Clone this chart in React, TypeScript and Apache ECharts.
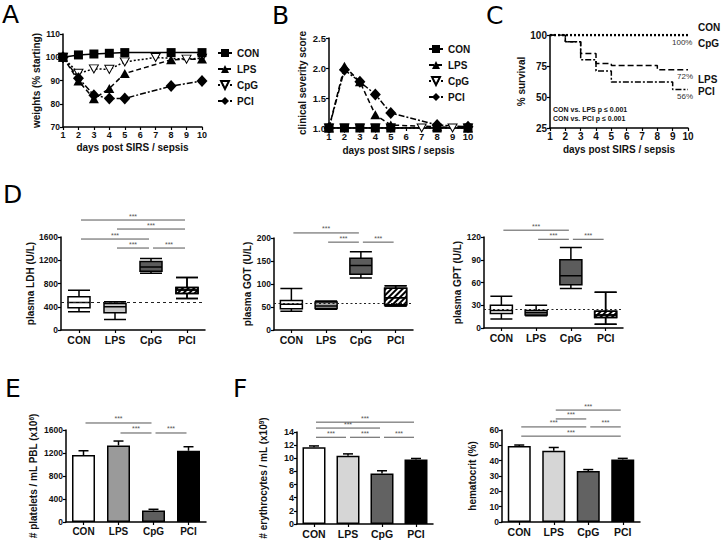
import React, { useEffect, useRef } from 'react';
import * as echarts from 'echarts';

const FONT = '"Liberation Sans", Arial, Helvetica, sans-serif';
const LETTER_FONT = '"DejaVu Sans", "Noto Sans", sans-serif';

const groups = ['CON', 'LPS', 'CpG', 'PCI'];

// Panel A - weights (% starting)
const daysMain = [1, 2, 3, 4, 5, 8, 10];
const daysCpG = [1, 2, 3, 4, 5, 7, 9, 10];
const weightCON = [100, 101, 101.4, 101.7, 102, 102, 102];
const weightLPS = [100, 89.8, 82.1, 86.6, 93, 98.9, 99.2];
const weightCpG = [100, 93.1, 95, 94.8, 98, 99.9, 99.2, 99.6];
const weightPCI = [100, 91, 83.7, 82.3, 82.3, 87.6, 89.8];

// Panel B - clinical severity score
const scoreCON = [1, 1, 1, 1, 1, 1, 1];
const scoreLPS = [1, 2.03, 1.77, 1.22, 1.05, 1.02, 1.0];
const scoreCpG = [1, 1, 1, 1, 1, 1, 1, 1];
const scorePCI = [1, 1.97, 1.77, 1.56, 1.25, 1.05, 1.02];

// Panel C - survival (Kaplan-Meier)
const survDaysCON = [1, 10];
const survCON = [100, 100];
const survDaysLPS = [1, 2, 3, 4, 5, 8, 10];
const survLPS = [100, 94.5, 85, 77, 75.5, 72, 72];
const survDaysPCI = [1, 2, 3, 4, 5, 9, 10];
const survPCI = [100, 94.5, 80, 71, 62, 56, 56];

// Panel D - box plots [min, Q1, median, Q3, max]
const ldhBoxes = [
  [314, 383, 474, 571, 686],
  [180, 297, 400, 457, 486],
  [977, 1010, 1086, 1177, 1229],
  [543, 629, 690, 731, 903],
];
const ldhRef = 470;
const gotBoxes = [
  [41, 46, 56, 64, 90],
  [45, 47, 52, 61, 63],
  [113, 121, 140, 156, 170],
  [52, 55, 70, 91, 96],
];
const gotRef = 58;
const gptBoxes = [
  [12, 19, 23, 30, 42],
  [16, 17, 20, 23, 30],
  [52, 57, 69, 90, 106],
  [5, 14, 17, 22, 47],
];
const gptRef = 25;

// Panel E - platelets
const plateletMean = [1164, 1332, 198, 1239];
const plateletUpper = [1239, 1408, 221, 1309];

// Panel F - erythrocytes and hematocrit
const erythroMean = [11.68, 10.37, 7.7, 9.82];
const erythroUpper = [11.88, 10.67, 8.1, 9.97];
const hctMean = [49.5, 46.5, 33.2, 40.8];
const hctUpper = [50.2, 48.6, 34.2, 41.5];

// significance brackets [fromGroup, toGroup, y]
const sigLDH = [[0, 3, 1892], [1, 3, 1737], [0, 2, 1565], [1, 2, 1410], [2, 3, 1410]];
const sigGOT = [[0, 2, 211], [1, 2, 191], [2, 3, 191]];
const sigGPT = [[0, 2, 129], [1, 2, 117], [2, 3, 117]];
const sigPlt = [[0, 2, 1722], [1, 2, 1548], [2, 3, 1548]];
const sigEry = [[0, 3, 15.5], [0, 2, 14.6], [0, 1, 13.2], [1, 2, 13.2], [2, 3, 13.2]];
const sigHct = [[1, 3, 73], [1, 2, 67.2], [0, 2, 62], [2, 3, 62], [0, 3, 56]];

const zip = (xs: number[], ys: number[]) => xs.map((x, i) => [x, ys[i]]);

const axisLineStyle = { show: true, onZero: false, lineStyle: { color: '#000', width: 1.5 } };
const axisTickStyle = { show: true, length: 3, lineStyle: { color: '#000', width: 1.2 } };
const nameStyle = {
  color: '#111', fontSize: 10, fontWeight: 'bold', fontFamily: FONT,
  rich: { sup: { fontSize: 6.5, fontWeight: 'bold', fontFamily: FONT, color: '#111', verticalAlign: 'top', lineHeight: 10 } },
};

function valueX(gridIndex: number, fontSize: number, nameGap: number) {
  return {
    type: 'value', gridIndex, min: 1, max: 10, interval: 1,
    name: 'days post SIRS / sepsis', nameLocation: 'middle', nameGap,
    nameTextStyle: nameStyle,
    axisLine: axisLineStyle, axisTick: axisTickStyle, splitLine: { show: false },
    axisLabel: { color: '#111', fontSize, fontWeight: 'bold', fontFamily: FONT, margin: 3 },
  };
}

function catX(gridIndex: number, fontSize: number) {
  return {
    type: 'category', gridIndex, data: groups,
    axisLine: axisLineStyle,
    axisTick: { ...axisTickStyle, alignWithLabel: true },
    splitLine: { show: false },
    axisLabel: { color: '#111', fontSize, fontWeight: 'bold', fontFamily: FONT, margin: 4 },
  };
}

function valueY(gridIndex: number, min: number, max: number, interval: number, name: string, nameGap: number, fontSize: number, decimals = 0) {
  return {
    type: 'value', gridIndex, min, max, interval,
    name, nameLocation: 'middle', nameGap, nameTextStyle: nameStyle,
    axisLine: axisLineStyle, axisTick: axisTickStyle, splitLine: { show: false },
    axisLabel: {
      color: '#111', fontSize, fontWeight: 'bold', fontFamily: FONT, margin: 3,
      formatter: (v: number) => v.toFixed(decimals),
    },
  };
}

const CPG_SYMBOL = 'path://M0,0L10,0L5,9Z';

function timeSeries(axis: number, cpgDays: number[], con: number[], lps: number[], cpg: number[], pci: number[]) {
  const common = { type: 'line', xAxisIndex: axis, yAxisIndex: axis, z: 3 };
  return [
    { ...common, name: 'CpG', data: zip(cpgDays, cpg), symbol: CPG_SYMBOL, symbolSize: [9, 8],
      itemStyle: { color: '#fff', borderColor: '#000', borderWidth: 1 },
      lineStyle: { color: '#000', width: 1.5, type: [2, 2] } },
    { ...common, name: 'PCI', data: zip(daysMain, pci), symbol: 'diamond', symbolSize: [11, 12],
      itemStyle: { color: '#000' }, lineStyle: { color: '#000', width: 1.5, type: [6, 2, 2, 2] } },
    { ...common, name: 'LPS', data: zip(daysMain, lps), symbol: 'triangle', symbolSize: [10, 9],
      itemStyle: { color: '#000' }, lineStyle: { color: '#000', width: 1.5, type: [5, 3] } },
    { ...common, name: 'CON', data: zip(daysMain, con), symbol: 'rect', symbolSize: 9,
      itemStyle: { color: '#000' }, lineStyle: { color: '#000', width: 1.5, type: 'solid' } },
  ];
}

function sigSeries(axis: number, data: number[][]) {
  return {
    type: 'custom', xAxisIndex: axis, yAxisIndex: axis, clip: false, silent: true, z: 5,
    encode: { x: [0, 1], y: 2 },
    data,
    renderItem: (_p: any, api: any) => {
      const a = api.coord([api.value(0), api.value(2)]);
      const b = api.coord([api.value(1), api.value(2)]);
      return {
        type: 'group',
        children: [
          { type: 'line', shape: { x1: a[0] + 2, y1: a[1], x2: b[0] - 2, y2: b[1] },
            style: { stroke: '#555', lineWidth: 1 } },
          { type: 'text', style: { text: '***', x: (a[0] + b[0]) / 2, y: a[1] - 0.5,
            align: 'center', verticalAlign: 'bottom', fontSize: 7, fontFamily: FONT, fill: '#555' } },
        ],
      };
    },
  };
}

function errSeries(axis: number, mean: number[], upper: number[]) {
  return {
    type: 'custom', xAxisIndex: axis, yAxisIndex: axis, clip: false, silent: true, z: 4,
    encode: { x: 0, y: [1, 2] },
    data: mean.map((m, i) => [i, m, upper[i]]),
    renderItem: (_p: any, api: any) => {
      const base = api.coord([api.value(0), api.value(1)]);
      const top = api.coord([api.value(0), api.value(2)]);
      return {
        type: 'group',
        children: [
          { type: 'line', shape: { x1: base[0], y1: base[1], x2: top[0], y2: top[1] },
            style: { stroke: '#000', lineWidth: 1.5 } },
          { type: 'line', shape: { x1: top[0] - 5, y1: top[1], x2: top[0] + 5, y2: top[1] },
            style: { stroke: '#000', lineWidth: 1.5 } },
        ],
      };
    },
  };
}

const hatch = {
  color: '#fff',
  decal: { symbol: 'rect', color: '#000', dashArrayX: [1, 0], dashArrayY: [1.6, 1.6], rotation: -Math.PI / 4, symbolSize: 1 },
};

function boxSeries(axis: number, boxes: number[][], ref: number, lpsColor: string, dash: number[]) {
  const fills = ['#ffffff', lpsColor, '#5c5c5c'];
  return {
    type: 'boxplot', xAxisIndex: axis, yAxisIndex: axis, boxWidth: [22, 22],
    itemStyle: { borderColor: '#000', borderWidth: 1.5 },
    data: boxes.map((b, i) => ({
      value: b,
      itemStyle: i === 3 ? { ...hatch, borderColor: '#000', borderWidth: 1.5 } : { color: fills[i], borderColor: '#000', borderWidth: 1.5 },
    })),
    markLine: {
      silent: true, symbol: 'none', label: { show: false },
      lineStyle: { color: '#222', width: 1.2, type: dash },
      data: [{ yAxis: ref }],
    },
  };
}

function barSeries(axis: number, vals: number[], colors: string[]) {
  return {
    type: 'bar', xAxisIndex: axis, yAxisIndex: axis, barWidth: 23,
    data: vals.map((v, i) => ({ value: v, itemStyle: { color: colors[i], borderColor: '#000', borderWidth: 1.5 } })),
  };
}

function letter(text: string, x: number, y: number) {
  return { type: 'text', left: x, top: y, style: { text, fontSize: 25, fontFamily: LETTER_FONT, fill: '#000' } };
}

function label(text: string, x: number, y: number, size: number, bold = true, color = '#111') {
  return { type: 'text', left: x, top: y, style: { text, fontSize: size, fontWeight: bold ? 'bold' : 'normal', fontFamily: FONT, fill: color } };
}

const legendBase = {
  orient: 'vertical', padding: 0, itemWidth: 14, itemHeight: 10, itemGap: 6,
  data: ['CON', 'LPS', 'CpG', 'PCI'], selectedMode: false,
  textStyle: { color: '#111', fontSize: 10, fontWeight: 'bold', fontFamily: FONT },
};

export default function App() {
  const ref = useRef<HTMLDivElement>(null);
  useEffect(() => {
    if (!ref.current) return;
    const chart = echarts.init(ref.current, undefined, { renderer: 'svg' });
    const gridBase = { containLabel: false, outerBoundsMode: 'none' };
    const option: any = {
      animation: false,
      backgroundColor: '#fff',
      textStyle: { fontFamily: FONT },
      grid: [
        { ...gridBase, left: 63, top: 34, width: 139, height: 93 },
        { ...gridBase, left: 329, top: 38, width: 139, height: 90 },
        { ...gridBase, left: 550, top: 35, width: 138, height: 93 },
        { ...gridBase, left: 61, top: 237, width: 144, height: 93 },
        { ...gridBase, left: 274, top: 238, width: 139, height: 92 },
        { ...gridBase, left: 484, top: 237, width: 139, height: 91 },
        { ...gridBase, left: 66, top: 430, width: 140, height: 92 },
        { ...gridBase, left: 297, top: 432, width: 136, height: 92 },
        { ...gridBase, left: 502, top: 430, width: 138, height: 92 },
      ],
      legend: [
        { ...legendBase, left: 217, top: 48 },
        { ...legendBase, left: 428, top: 44 },
      ],
      xAxis: [
        valueX(0, 9, 15),
        valueX(1, 9.5, 17),
        valueX(2, 10, 16),
        catX(3, 10.5),
        catX(4, 10.5),
        catX(5, 10.5),
        catX(6, 10),
        catX(7, 10.5),
        catX(8, 10.5),
      ],
      yAxis: [
        valueY(0, 70, 110, 10, 'weights (% starting)', 20, 8.5),
        valueY(1, 1, 2.5, 0.5, 'clinical severity score', 22, 9.5, 1),
        valueY(2, 25, 100, 25, '% survival', 22, 10),
        valueY(3, 0, 1600, 400, 'plasma LDH (U/L)', 24, 8.5),
        valueY(4, 0, 200, 50, 'plasma GOT (U/L)', 22, 8.5),
        valueY(5, 0, 120, 30, 'plasma GPT (U/L)', 22, 8.5),
        valueY(6, 0, 1600, 400, '# platelets / mL PBL (x10{sup|6})', 28, 8.5),
        valueY(7, 0, 14, 2, '# erythrocytes / mL (x10{sup|9})', 29, 9),
        valueY(8, 0, 60, 10, 'hematocrit (%)', 25, 8.5),
      ],
      series: [
        ...timeSeries(0, daysCpG, weightCON, weightLPS, weightCpG, weightPCI),
        ...timeSeries(1, daysCpG, scoreCON, scoreLPS, scoreCpG, scorePCI),
        { type: 'line', name: 'CON survival', xAxisIndex: 2, yAxisIndex: 2, step: 'end', symbol: 'none',
          data: zip(survDaysCON, survCON), lineStyle: { color: '#000', width: 2.5, type: [2, 2] } },
        { type: 'line', name: 'LPS survival', xAxisIndex: 2, yAxisIndex: 2, step: 'end', symbol: 'none',
          data: zip(survDaysLPS, survLPS), lineStyle: { color: '#000', width: 1.5, type: [6, 3] } },
        { type: 'line', name: 'PCI survival', xAxisIndex: 2, yAxisIndex: 2, step: 'end', symbol: 'none',
          data: zip(survDaysPCI, survPCI), lineStyle: { color: '#000', width: 1.5, type: [6, 2, 2, 2] } },
        boxSeries(3, ldhBoxes, ldhRef, '#c8c8c8', [3, 3]),
        boxSeries(4, gotBoxes, gotRef, '#a8a8a8', [2, 2.5]),
        boxSeries(5, gptBoxes, gptRef, '#a8a8a8', [2, 2.5]),
        sigSeries(3, sigLDH),
        sigSeries(4, sigGOT),
        sigSeries(5, sigGPT),
        barSeries(6, plateletMean, ['#ffffff', '#9a9a9a', '#5e5e5e', '#000000']),
        errSeries(6, plateletMean, plateletUpper),
        sigSeries(6, sigPlt),
        barSeries(7, erythroMean, ['#ffffff', '#d6d6d6', '#626262', '#000000']),
        errSeries(7, erythroMean, erythroUpper),
        sigSeries(7, sigEry),
        barSeries(8, hctMean, ['#ffffff', '#d6d6d6', '#626262', '#000000']),
        errSeries(8, hctMean, hctUpper),
        sigSeries(8, sigHct),
      ],
      graphic: [
        letter('A', 2, 2),
        letter('B', 272, 3),
        letter('C', 486, 3),
        letter('D', 3, 182),
        letter('E', 5, 376),
        letter('F', 233, 376),
        label('CON', 698, 22, 10),
        label('CpG', 698, 38, 10),
        label('LPS', 698, 74, 10),
        label('PCI', 698, 86, 10),
        label('100%', 672, 38, 8, false, '#333'),
        label('72%', 677, 72, 8, false, '#333'),
        label('56%', 677, 92, 8, false, '#333'),
        label('CON vs. LPS p ≤ 0.001', 553, 106, 7),
        label('CON vs. PCI p ≤ 0.001', 553, 115, 7),
      ],
    };
    chart.setOption(option);
    return () => chart.dispose();
  }, []);
  return <div ref={ref} style={{ position: 'absolute', left: 0, top: 0, width: 724, height: 541, background: '#fff' }} />;
}
